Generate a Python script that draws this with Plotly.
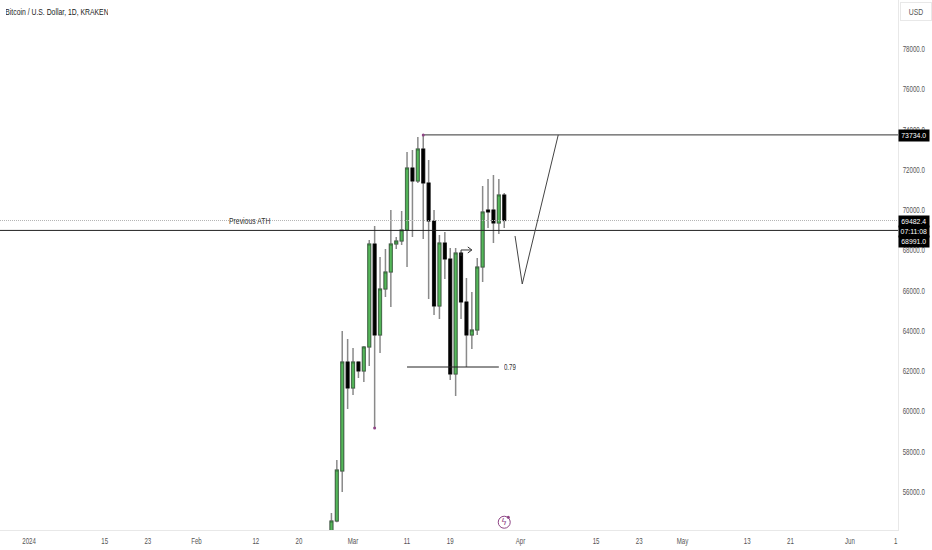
import plotly.graph_objects as go

FONT = "Liberation Sans, Arial, sans-serif"
GREEN = "#55b85a"
EDGE = "#2e5a33"
WICK = "#8a8a8a"
TEXT = "#555555"
PURPLE = "#8e4585"

dates = ["2024-02-26", "2024-02-27", "2024-02-28", "2024-02-29", "2024-03-01", "2024-03-02",
         "2024-03-03", "2024-03-04", "2024-03-05", "2024-03-06", "2024-03-07", "2024-03-08",
         "2024-03-09", "2024-03-10", "2024-03-11", "2024-03-12", "2024-03-13", "2024-03-14",
         "2024-03-15", "2024-03-16", "2024-03-17", "2024-03-18", "2024-03-19", "2024-03-20",
         "2024-03-21", "2024-03-22", "2024-03-23", "2024-03-24", "2024-03-25", "2024-03-26",
         "2024-03-27", "2024-03-28", "2024-03-29"]
opens = [51700, 54560, 57044, 62457, 61165, 62457, 62009, 63201, 68316, 63797, 66082, 66926,
         68316, 68465, 69011, 72090, 71445, 73034, 71346, 69458, 65237, 68366, 67571, 61860,
         67869, 65436, 63797, 64045, 67174, 70005, 70005, 69359, 70750]
highs = [54958, 57590, 63996, 63599, 63152, 62500, 63250, 68515, 69210, 67671, 68068, 70005,
         68664, 69955, 72885, 72984, 73630, 73734, 72488, 70005, 68763, 68912, 68118, 68118,
         67900, 66628, 65933, 67621, 71197, 71544, 71743, 71544, 70850]
lows = [50900, 54500, 56001, 60122, 60818, 61662, 61463, 62258, 59179, 62903, 65684, 65188,
        68068, 68267, 67174, 68664, 71346, 68565, 65585, 64790, 64592, 66578, 61562, 60768,
        64592, 62208, 63102, 63797, 66429, 69111, 68366, 68813, 69111]
closes = [54560, 57093, 62457, 61165, 62457, 62009, 63201, 68316, 63797, 66082, 66926, 68316,
          68465, 69011, 72090, 71445, 73034, 71346, 69458, 65237, 68366, 67571, 61860, 67869,
          65436, 63797, 64045, 67174, 69905, 69905, 69359, 70750, 69482.4]

price_ticks = [56000, 58000, 60000, 62000, 64000, 66000, 68000, 70000, 72000, 74000, 76000, 78000]
date_ticks = ["2024-01-01", "2024-01-15", "2024-01-23", "2024-02-01", "2024-02-12", "2024-02-20",
              "2024-03-01", "2024-03-11", "2024-03-19", "2024-04-01", "2024-04-15", "2024-04-23",
              "2024-05-01", "2024-05-13", "2024-05-21", "2024-06-01", "2024-06-09 12:00"]
date_labels = ["2024", "15", "23", "Feb", "12", "20", "Mar", "11", "19", "Apr", "15", "23",
               "May", "13", "21", "Jun", "1"]

ath_price = 73734.0
last_price = 69482.4
prev_ath = 68991.0
fib_price = 62208
path_x = ["2024-03-31", "2024-04-01 08:00", "2024-04-08"]
path_y = [68714, 66330, 73734]
arrow_x = ["2024-03-21", "2024-03-21", "2024-03-23"]
arrow_y = [67720, 68020, 68020]
chevron_x = ["2024-03-22 06:00", "2024-03-23", "2024-03-22 06:00"]
chevron_y = [68170, 68020, 67870]

W, H, AXIS_X, AXIS_Y = 932, 550, 898, 530

fig = go.Figure()
# wicks
fig.add_trace(go.Candlestick(
    x=dates, open=opens, high=highs, low=lows, close=closes,
    increasing=dict(line=dict(color=WICK, width=1.5), fillcolor=GREEN),
    decreasing=dict(line=dict(color=WICK, width=1.5), fillcolor="#000000"),
    whiskerwidth=0, hoverinfo="skip", showlegend=False))
# bodies with a dark edge
fig.add_trace(go.Candlestick(
    x=dates, open=opens, close=closes,
    high=[max(o, c) for o, c in zip(opens, closes)],
    low=[min(o, c) for o, c in zip(opens, closes)],
    increasing=dict(line=dict(color=EDGE, width=0.7), fillcolor=GREEN),
    decreasing=dict(line=dict(color="#000000", width=0.7), fillcolor="#000000"),
    whiskerwidth=0, hoverinfo="skip", showlegend=False))


def line(x, y, color="#222222", width=1, dash="solid"):
    fig.add_trace(go.Scatter(x=x, y=y, mode="lines", hoverinfo="skip", showlegend=False,
                             line=dict(color=color, width=width, dash=dash)))


x_left, x_right = "2023-12-26 15:00", "2024-06-09 22:00"
line([x_left, x_right], [last_price, last_price], color="#b4b4b4", width=1, dash="1px,1px")
line([x_left, x_right], [prev_ath, prev_ath], color="#222222", width=1)
line(["2024-03-14", x_right], [ath_price, ath_price], color="#333333", width=1)
line(["2024-03-11", "2024-03-28"], [fib_price, fib_price], color="#222222", width=1)
line(path_x, path_y, color="#444444", width=1)
line(arrow_x, arrow_y, color="#333333", width=1)
line(chevron_x, chevron_y, color="#333333", width=1)

fig.add_trace(go.Scatter(x=["2024-03-14", "2024-03-05"], y=[ath_price, 59179], mode="markers",
                         marker=dict(color=PURPLE, size=3), hoverinfo="skip", showlegend=False))

fig.update_layout(
    width=W, height=H, margin=dict(l=0, r=0, t=0, b=0, autoexpand=False),
    paper_bgcolor="white", plot_bgcolor="white", boxgap=0.25, showlegend=False,
    font=dict(family=FONT, size=8.5, color=TEXT),
    xaxis=dict(type="date", domain=[0, AXIS_X / W], range=[x_left, x_right], automargin=False,
               rangeslider=dict(visible=False),
               tickmode="array", tickvals=date_ticks, ticktext=date_labels, tickangle=0,
               showgrid=False, zeroline=False, ticks="outside", ticklen=3, tickcolor="rgba(0,0,0,0)",
               showline=True, linecolor="#e8e8e8", linewidth=1, tickfont=dict(size=8.5, color=TEXT)),
    yaxis=dict(side="right", domain=[1 - AXIS_Y / H, 1], range=[54114, 80433], tickmode="array",
               automargin=False,
               tickvals=price_ticks, ticktext=[f"{v:.1f}" for v in price_ticks], showgrid=False,
               zeroline=False, ticks="outside", ticklen=2, tickcolor="rgba(0,0,0,0)", showline=True,
               linecolor="#e8e8e8", linewidth=1, tickfont=dict(size=8.5, color=TEXT)),
)


def px_y(p):
    return 1 - p / H


def badge(y, text):
    fig.add_annotation(x=AXIS_X / W, xref="paper", xanchor="left", y=y, yref="paper", yanchor="middle",
                       text=text, showarrow=False, bgcolor="#000000", borderpad=0, width=30, height=11,
                       align="center", font=dict(size=8, color="white", family=FONT))


badge(px_y(135.5), f"{ath_price:.1f}")
badge(px_y(221), f"{last_price:.1f}")
badge(px_y(231.5), "07:11:08")
badge(px_y(242), f"{prev_ath:.1f}")

fig.add_annotation(x="2024-02-11", y=last_price, yanchor="middle", xanchor="center",
                   text="Previous ATH", showarrow=False, font=dict(size=9.5, color="#333333"))
fig.add_annotation(x="2024-03-28 12:00", y=fib_price, xanchor="left", yanchor="middle", text="0.79",
                   width=12, showarrow=False, font=dict(size=8.5, color="#333333"))
fig.add_annotation(x=4 / W, xref="paper", y=px_y(11), yref="paper", xanchor="left", yanchor="middle",
                   text="Bitcoin / U.S. Dollar, 1D, KRAKEN", width=102, showarrow=False,
                   font=dict(size=9.5, color="#222222"))
fig.add_annotation(x=900 / W, xref="paper", xanchor="left", y=px_y(11.5), yref="paper", yanchor="middle",
                   text="USD", showarrow=False, width=28, height=15, bordercolor="#e8e8e8", borderwidth=1,
                   font=dict(size=9.5, color=TEXT))
fig.add_annotation(x="2024-03-29", y=54500, yanchor="middle", text="ϟ", showarrow=False,
                   font=dict(size=9, color=PURPLE, family="DejaVu Sans"))
fig.add_trace(go.Scatter(x=["2024-03-29"], y=[54500], mode="markers", hoverinfo="skip", showlegend=False,
                         marker=dict(symbol="circle-open", size=12, color=PURPLE, line=dict(width=1, color=PURPLE))))
fig.add_trace(go.Scatter(x=["2024-03-29 18:00"], y=[54750], mode="markers", hoverinfo="skip", showlegend=False,
                         marker=dict(size=3, color=PURPLE)))

# The reference's lettering is condensed and no narrow face is installed: compress the real text.
POST = """
document.body.style.margin = '0';
document.querySelectorAll('svg text').forEach(function (t) {
  if (t.textContent === '\\u03df') { return; }
  var n = t.getComputedTextLength();
  var badge = (t.style.fill || '').indexOf('255, 255, 255') >= 0;
  if (n > 0) {
    t.setAttribute('textLength', (n * (badge ? 0.86 : 0.72)).toFixed(2));
    t.setAttribute('lengthAdjust', 'spacingAndGlyphs');
  }
});
"""
fig.write_html("out.html", config=dict(displayModeBar=False), post_script=POST)
